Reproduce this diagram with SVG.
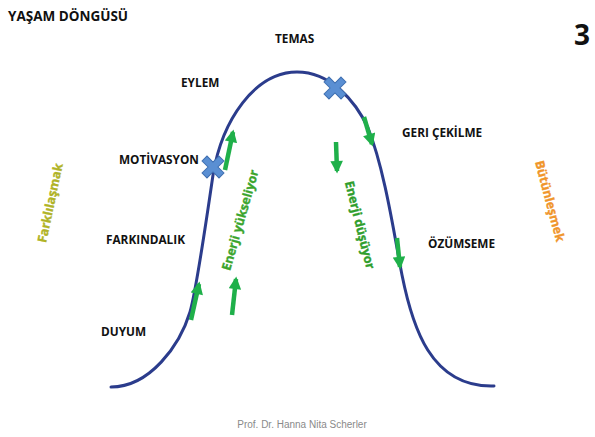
<svg xmlns="http://www.w3.org/2000/svg" width="595" height="437" viewBox="0 0 595 437">
<defs>
<style>
.lbl{font-family:"Open Sans","Liberation Sans",sans-serif;font-weight:700;font-size:11.8px;fill:#111}
.rot{font-family:"Open Sans","Liberation Sans",sans-serif;font-weight:700;font-size:12.5px;text-anchor:middle;dominant-baseline:central;stroke-width:0.35px}
.curve{fill:none;stroke:#2b3c8c;stroke-width:3;stroke-linecap:round}
.arr{fill:none;stroke:#1fb04a;stroke-width:4.5;marker-end:url(#ah)}
.cross{fill:#5a8fd3;stroke:#3f6fb0;stroke-width:1}
</style>
<marker id="ah" viewBox="0 0 10 10" refX="8" refY="5" markerWidth="3" markerHeight="2.8" orient="auto" markerUnits="strokeWidth">
<path d="M0,0 L10,5 L0,10 Z" fill="#1fb04a"/>
</marker>
</defs>
<rect width="595" height="437" fill="#fff"/>
<text x="8" y="21" font-family="Open Sans, Liberation Sans, sans-serif" font-weight="700" font-size="13.5" fill="#111">YAŞAM DÖNGÜSÜ</text>
<text x="574" y="45" font-family="Open Sans, Liberation Sans, sans-serif" font-weight="700" font-size="28" fill="#111">3</text>
<g id="connectors">
<path class="curve" d="M111,387 C150,387 180,345 190,312 C195,295 205,230 213,175 C222,120 255,72 297,72 C330,72 355,100 368,128 C385,170 395,240 402,275 C412,325 430,388 494,386"/>
<path class="arr" d="M191,320 L199,284"/>
<path class="arr" d="M225,170 L233,132"/>
<path class="arr" d="M232,315 L236,279"/>
<path class="arr" d="M336,142 L337,171"/>
<path class="arr" d="M364,117 L372,144"/>
<path class="arr" d="M397,238 L400,267"/>
</g>
<g id="cross-motivasyon" transform="translate(213,167) rotate(45)">
<path class="cross" d="M-3.5,-12 H3.5 V-3.5 H12 V3.5 H3.5 V12 H-3.5 V3.5 H-12 V-3.5 H-3.5 Z"/>
</g>
<g id="cross-temas" transform="translate(335,88) rotate(45)">
<path class="cross" d="M-3.5,-12 H3.5 V-3.5 H12 V3.5 H3.5 V12 H-3.5 V3.5 H-12 V-3.5 H-3.5 Z"/>
</g>
<g id="temas"><text class="lbl" x="275" y="43">TEMAS</text></g>
<g id="eylem"><text class="lbl" x="181" y="87">EYLEM</text></g>
<g id="motivasyon"><text class="lbl" x="119" y="164">MOTİVASYON</text></g>
<g id="geri-cekilme"><text class="lbl" x="402" y="137">GERI ÇEKİLME</text></g>
<g id="farkindalik"><text class="lbl" x="106" y="244">FARKINDALIK</text></g>
<g id="duyum"><text class="lbl" x="101" y="336">DUYUM</text></g>
<g id="ozumseme"><text class="lbl" x="428" y="248">ÖZÜMSEME</text></g>
<g id="farklilasmak"><text class="rot" fill="#b0b326" stroke="#b0b326" transform="translate(50,203) rotate(-78)">Farklılaşmak</text></g>
<g id="butunlesmek"><text class="rot" fill="#f0952a" stroke="#f0952a" transform="translate(550,201) rotate(75)">Bütünleşmek</text></g>
<g id="enerji-yukseliyor"><text class="rot" fill="#3aa52c" stroke="#3aa52c" transform="translate(240,220) rotate(-74)">Enerji yükseliyor</text></g>
<g id="enerji-dusuyor"><text class="rot" fill="#2f9e2c" stroke="#2f9e2c" transform="translate(360,225) rotate(76)">Enerji düşüyor</text></g>
<text x="302" y="428" text-anchor="middle" font-family="Liberation Sans, Arial, sans-serif" font-size="10" fill="#8a8a8a">Prof. Dr. Hanna Nita Scherler</text>
</svg>
